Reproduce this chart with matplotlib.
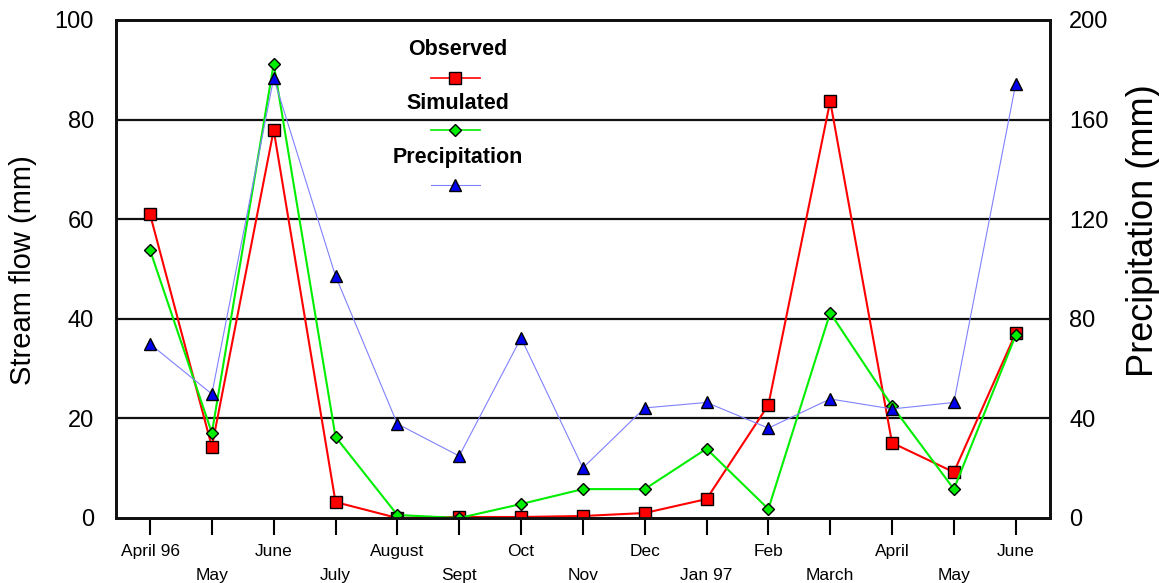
import numpy as np
import matplotlib
matplotlib.use("Agg")
import matplotlib.pyplot as plt

plt.rcParams['font.family'] = ['Liberation Sans', 'DejaVu Sans']

months = ["April 96", "May", "June", "July", "August", "Sept", "Oct", "Nov",
          "Dec", "Jan 97", "Feb", "March", "April", "May", "June"]
observed = [61.0, 14.3, 77.9, 3.2, 0.0, 0.2, 0.2, 0.4, 1.0, 3.8, 22.7, 83.7, 15.1, 9.2, 37.1]
simulated = [53.8, 17.1, 91.2, 16.3, 0.6, 0.0, 2.8, 5.8, 5.8, 13.9, 1.8, 41.2, 22.5, 5.8, 36.7]
precip = [69.9, 49.8, 176.7, 97.2, 37.8, 24.9, 72.3, 20.1, 44.2, 46.4, 36.1, 47.8, 43.8, 46.4, 174.3]

x = np.arange(len(months))

fig = plt.figure(figsize=(11.59, 5.83), dpi=100)
ax = fig.add_axes([0.1001, 0.1115, 0.8056, 0.8542])
ax2 = ax.twinx()

ax.plot(x, observed, color='#ff0000', lw=1.5, marker='s', ms=8.5,
        mfc='#ff0000', mec='black', mew=1, zorder=3)
ax.plot(x, simulated, color='#00ee00', lw=1.5, marker='D', ms=6,
        mfc='#00ee00', mec='black', mew=1, zorder=4)
ax2.plot(x, precip, color='#8080ff', lw=0.8, marker='^', ms=9,
         mfc='#0000ee', mec='black', mew=1, zorder=3)

ax.set_xlim(-0.55, 14.55)
ax.set_ylim(0, 100)
ax2.set_ylim(0, 200)
ax.set_yticks([0, 20, 40, 60, 80, 100])
ax2.set_yticks([0, 40, 80, 120, 160, 200])

for v in [20, 40, 60, 80]:
    ax.axhline(v, color='#111111', lw=1.6, zorder=1)

ax.set_xticks(x)
ax.set_xticklabels([m if i % 2 == 0 else "\n" + m for i, m in enumerate(months)],
                   fontsize=12.5, linespacing=1.75)
ax.tick_params(axis='x', direction='out', length=12, width=1.5, pad=7)
ax.tick_params(axis='y', length=0, labelsize=17, pad=16)
ax2.tick_params(axis='y', length=0, labelsize=17, pad=14)

for a in (ax, ax2):
    for s in a.spines.values():
        s.set_linewidth(2)
        s.set_color('#111111')

ax.set_ylabel("Stream flow (mm)", fontsize=21, va='center')
ax2.set_ylabel("Precipitation (mm)", fontsize=26, va='center')
ax.yaxis.set_label_coords(-0.1, 0.497)
ax2.yaxis.set_label_coords(1.1, 0.578)

# legend: bold label above each line key
keys = [("Observed", 0.940, 0.8835, dict(color='#ff0000', lw=1.2, marker='s', ms=8.5, mfc='#ff0000')),
        ("Simulated", 0.833, 0.779, dict(color='#00ee00', lw=1.2, marker='D', ms=6, mfc='#00ee00')),
        ("Precipitation", 0.723, 0.669, dict(color='#8080ff', lw=0.8, marker='^', ms=9, mfc='#0000ee'))]
for label, ty, ly, st in keys:
    ax2.text(0.366, ty, label, transform=ax2.transAxes, ha='center', va='center',
             fontsize=15.5, fontweight='bold')
    ax2.plot([0.337, 0.390], [ly, ly], transform=ax2.transAxes, clip_on=False,
             mec='black', mew=1, markevery=[], **st)
    ax2.plot([0.3635], [ly], transform=ax2.transAxes, clip_on=False, ls='none',
             mec='black', mew=1, **st)

fig.savefig("out.png", dpi=100)
